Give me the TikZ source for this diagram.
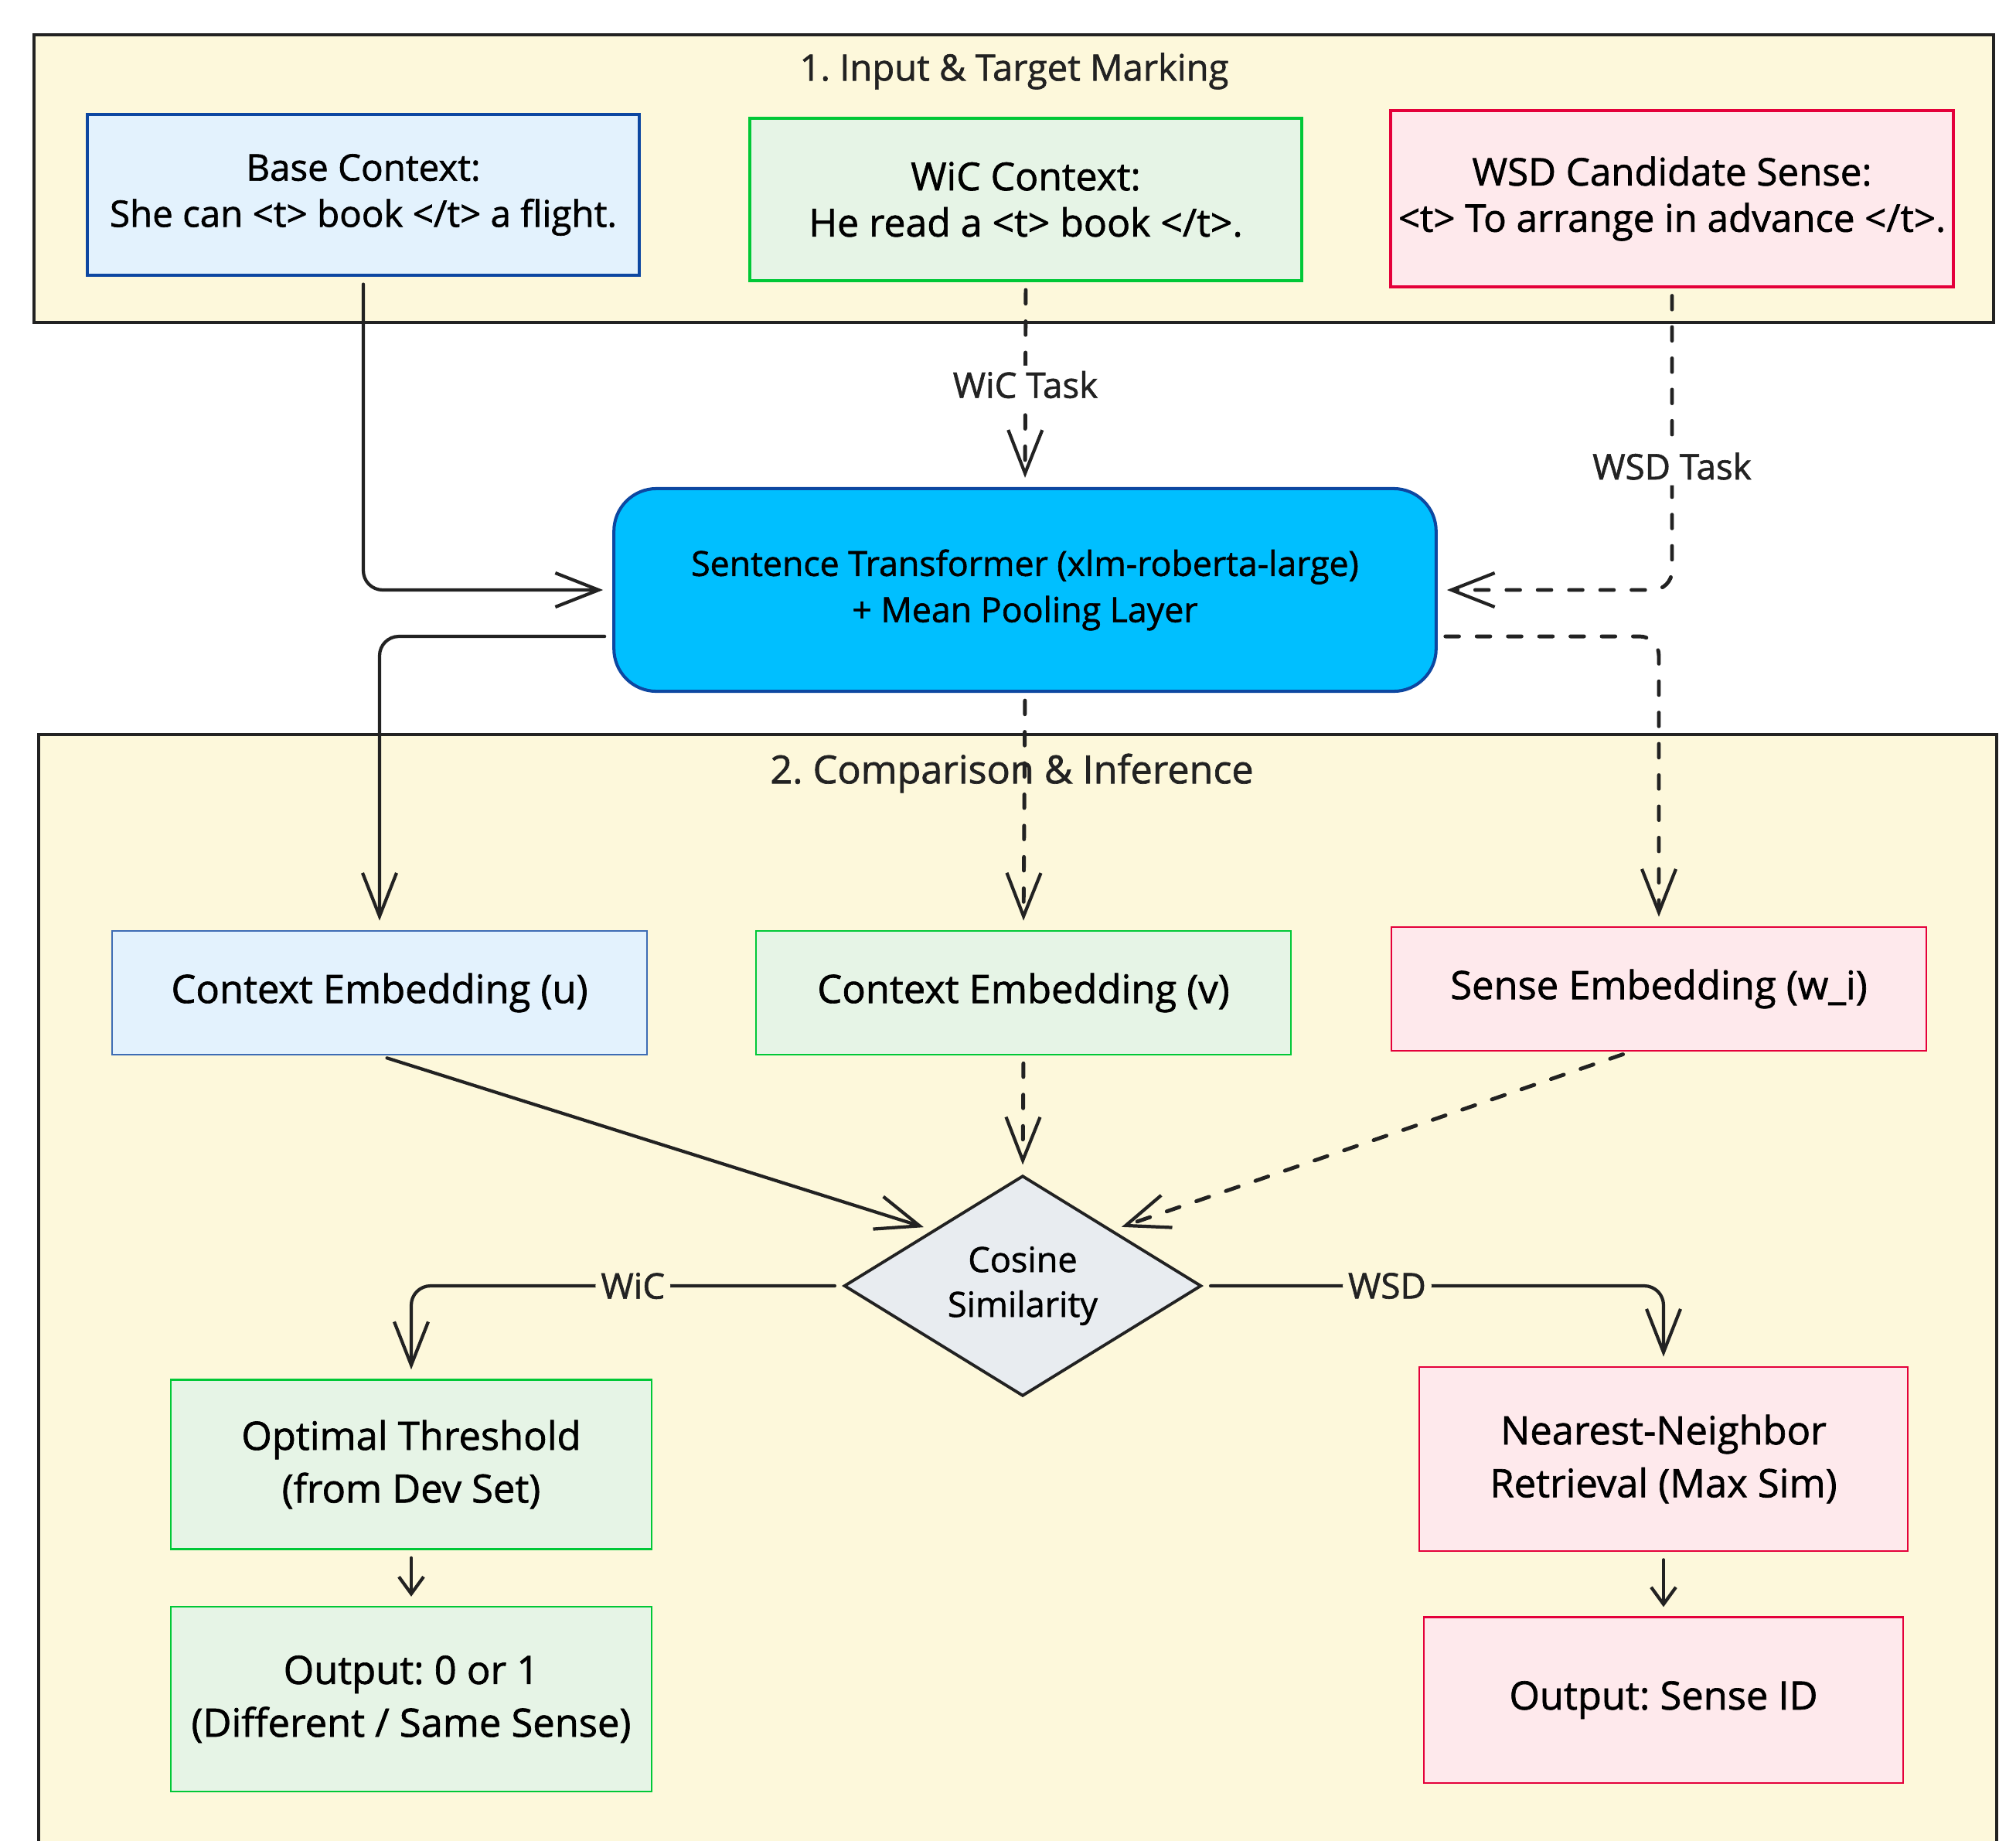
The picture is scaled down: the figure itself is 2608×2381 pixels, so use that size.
\documentclass[tikz,border=0pt]{standalone}
\usepackage{fontspec}
\setmainfont{Open Sans}[FakeBold=1.3]
\frenchspacing
\usetikzlibrary{positioning,shapes.geometric,arrows.meta}
\definecolor{clusterbg}{HTML}{FDF8DB}
\definecolor{inkline}{HTML}{222222}
\definecolor{blueline}{HTML}{0D47A1}
\definecolor{bluefill}{HTML}{E3F2FD}
\definecolor{greenline}{HTML}{00C837}
\definecolor{greenfill}{HTML}{E6F4E6}
\definecolor{redline}{HTML}{E4003A}
\definecolor{redfill}{HTML}{FEE9EC}
\definecolor{encfill}{HTML}{00BFFF}
\definecolor{simfill}{HTML}{E8ECF0}

\tikzset{
  cluster/.style={draw=inkline, fill=clusterbg, line width=1.2pt},
  clustertitle/.style={font=\fontsize{13.4pt}{16pt}\selectfont, text=inkline},
  box/.style={rectangle, align=center, inner sep=0pt, text=black},
  inbox/.style={box, line width=1.15pt, font=\fontsize{14pt}{17pt}\selectfont},
  embbox/.style={box, line width=0.7pt, font=\fontsize{14.4pt}{19.4pt}\selectfont},
  bluebox/.style={draw=blueline, fill=bluefill},
  greenbox/.style={draw=greenline, fill=greenfill},
  redbox/.style={draw=redline, fill=redfill},
  arr/.style={draw=inkline, line width=1.2pt, rounded corners=0.25cm, line cap=round,
    -{Straight Barb[length=5.6mm,width=4.4mm,line width=1.2pt]},
    shorten <=0.1cm, shorten >=0.12cm},
  smallarr/.style={arr, -{Straight Barb[length=2.2mm,width=3.2mm,line width=1.2pt]}},
  dashline/.style={line width=1.4pt, dash pattern=on 5pt off 6.5pt},
  lbl/.style={font=\fontsize{13pt}{15pt}\selectfont, text=inkline, inner sep=2pt},
}

\begin{document}
\begin{tikzpicture}[x=0.01cm, y=-0.01cm]
  \useasboundingbox (0,0) rectangle (2608,2381);
  \fill[white] (0,0) rectangle (2608,2381);
  % Groups
  \draw[cluster] (44,45) rectangle (2579,417);
  \draw[cluster] (50,950) rectangle (2583,2460);
  \node[clustertitle] (title1) at (1312,92) {1. Input \& Target Marking};
  \node[clustertitle, font=\fontsize{14.3pt}{16pt}\selectfont] (title2) at (1309,1000) {2. Comparison \& Inference};

  % Define nodes
  \node[inbox, bluebox, minimum width=7.14cm, minimum height=2.07cm,
    font=\fontsize{13.5pt}{17pt}\selectfont] (base) at (470,252)
    {Base Context:\\She can <t> book </t> a flight.};
  \node[inbox, greenbox, minimum width=7.13cm, minimum height=2.10cm,
    font=\fontsize{14.2pt}{17pt}\selectfont] (wic) at (1327,258)
    {WiC Context:\\He read a <t> book </t>.};
  \node[inbox, redbox, minimum width=7.28cm, minimum height=2.27cm] (wsd) at (2163,257)
    {WSD Candidate Sense:\\<t> To arrange in advance </t>.};
  \node[box, draw=blueline, fill=encfill, line width=1.15pt, rounded corners=0.55cm,
    minimum width=10.63cm, minimum height=2.62cm,
    font=\fontsize{12.7pt}{17pt}\selectfont] (enc) at (1326,763)
    {Sentence Transformer (xlm-roberta-large)\\+ Mean Pooling Layer};
  \node[embbox, bluebox, draw=blueline!80, minimum width=6.92cm, minimum height=1.6cm] (embu) at (491,1284)
    {Context Embedding (u)};
  \node[embbox, greenbox, minimum width=6.92cm, minimum height=1.6cm] (embv) at (1324,1284)
    {Context Embedding (v)};
  \node[embbox, redbox, minimum width=6.92cm, minimum height=1.6cm] (embw) at (2146,1279)
    {Sense Embedding (w\_i)};
  \node[diamond, draw=inkline, fill=simfill, line width=1.1pt, aspect=1.62, inner sep=0pt,
    minimum width=4.62cm, minimum height=2.85cm, align=center,
    font=\fontsize{12.8pt}{16.5pt}\selectfont] (cos) at (1323,1663)
    {Cosine\\Similarity};
  \node[embbox, greenbox, minimum width=6.22cm, minimum height=2.19cm] (thresh) at (532,1894)
    {Optimal Threshold\\(from Dev Set)};
  \node[embbox, greenbox, minimum width=6.22cm, minimum height=2.39cm,
    below=0.72cm of thresh] (outwic)
    {Output: 0 or 1\\(Different / Same Sense)};
  \node[embbox, redbox, minimum width=6.32cm, minimum height=2.38cm] (nn) at (2152,1887)
    {Nearest-Neighbor\\Retrieval (Max Sim)};
  \node[embbox, redbox, minimum width=6.20cm, minimum height=2.14cm,
    below=0.83cm of nn] (outwsd)
    {Output: Sense ID};

  % Connect
  \draw[arr] (base.south) |- (enc.west);
  \draw[arr, dashline] (wic.south) -- node[lbl, fill=white] {WiC Task} (enc.north);
  \draw[arr, dashline] (wsd.south) |- node[lbl, fill=white, pos=0.295] {WSD Task} (enc.east);
  \draw[arr] ([yshift=-0.6cm]enc.west) -| (embu.north);
  \draw[arr, dashline] (enc.south) -- (embv.north);
  \draw[arr, dashline] ([yshift=-0.6cm]enc.east) -| (embw.north);
  \draw[arr] (embu.south) -- (cos.north west);
  \draw[arr, dashline] (embv.south) -- (cos.north);
  \draw[arr, dashline] ([xshift=-0.37cm]embw.south) -- (cos.north east);
  \draw[arr] (cos.west) -| node[lbl, fill=clusterbg, pos=0.243] {WiC} (thresh.north);
  \draw[arr] (cos.east) -| node[lbl, fill=clusterbg, pos=0.2] {WSD} (nn.north);
  \draw[smallarr] (thresh.south) -- (outwic.north);
  \draw[smallarr] (nn.south) -- (outwsd.north);
\end{tikzpicture}
\end{document}
